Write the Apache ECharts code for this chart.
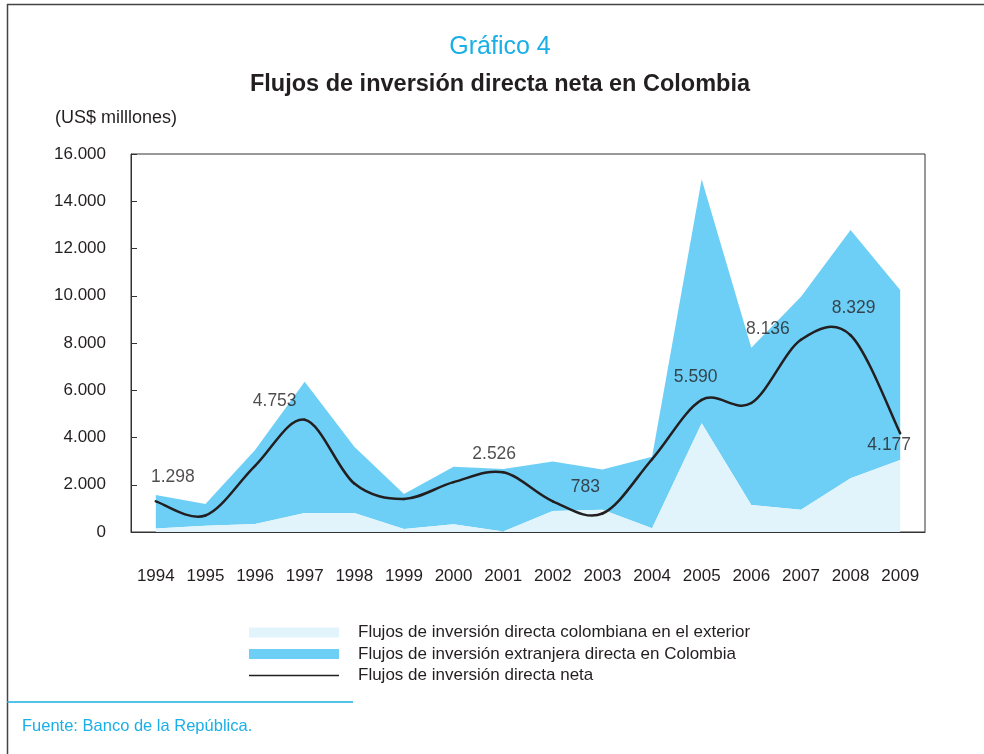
<!DOCTYPE html>
<html>
<head>
<meta charset="utf-8">
<title>Flujos de inversión directa neta en Colombia</title>
<script src="https://cdn.jsdelivr.net/npm/echarts@6/dist/echarts.min.js"></script>
<style>
  html, body { margin: 0; padding: 0; background: #fff; }
  #chart { width: 984px; height: 754px; }
</style>
</head>
<body>
<div id="chart"></div>
<script>
  // US$ millones
  var years = ['1994', '1995', '1996', '1997', '1998', '1999', '2000', '2001',
    '2002', '2003', '2004', '2005', '2006', '2007', '2008', '2009'];
  var exterior = [150, 260, 340, 800, 800, 130, 330, 20, 890, 940, 160, 4600, 1140, 940, 2270, 3050];
  var extranjera = [1420, 925, 3130, 5560, 2810, 1480, 2430, 2650, 2090, 1710, 3030, 10330, 6660, 9020, 10510, 7190];
  var neta = [1298, 700, 2800, 4753, 2050, 1400, 2110, 2526, 1300, 783, 3080, 5590, 5460, 8136, 8329, 4177];
  var yTicks = [0, 2000, 4000, 6000, 8000, 10000, 12000, 14000, 16000];

  var names = [
    'Flujos de inversión directa colombiana en el exterior',
    'Flujos de inversión extranjera directa en Colombia',
    'Flujos de inversión directa neta'
  ];

  var FONT = '"Liberation Sans", Arial, Helvetica, sans-serif';
  var CYAN = '#1aafe6';
  var INK = '#231f20';

  function fmt(v) {
    return String(v).replace(/\B(?=(\d{3})+(?!\d))/g, '.');
  }

  // which points of the net line carry a value label, and where it sits
  var labelOffsets = {
    0: [17, -24],
    3: [-30, -19],
    7: [-9, -18],
    9: [-17, -26],
    11: [-6, -23],
    13: [-33, -11],
    14: [3, -27],
    15: [-11, 12]
  };

  var labelData = [];
  Object.keys(labelOffsets).forEach(function (k) {
    var i = +k;
    labelData.push({
      value: [i, neta[i]],
      label: { offset: labelOffsets[k] }
    });
  });

  // spreadsheet-style smoothed line (catmull-rom), drawn once from dataIndex 0
  function renderNet(params, api) {
    if (params.dataIndex !== 0) return null;
    var pts = neta.map(function (v, i) { return api.coord([i, v]); });
    var n = pts.length;
    var kids = [];
    for (var i = 0; i < n - 1; i++) {
      var p0 = pts[Math.max(i - 1, 0)], p1 = pts[i], p2 = pts[i + 1], p3 = pts[Math.min(i + 2, n - 1)];
      kids.push({
        type: 'bezierCurve',
        shape: {
          x1: p1[0], y1: p1[1], x2: p2[0], y2: p2[1],
          cpx1: p1[0] + (p2[0] - p0[0]) / 6, cpy1: p1[1] + (p2[1] - p0[1]) / 6,
          cpx2: p2[0] - (p3[0] - p1[0]) / 6, cpy2: p2[1] - (p3[1] - p1[1]) / 6
        },
        style: { stroke: INK, lineWidth: 2.5, fill: null, lineCap: 'round' }
      });
    }
    return { type: 'group', children: kids };
  }

  // thin line icon for the legend (tiny corner dots keep the box 90x10)
  var lineIcon = 'path://M0,0h0.01v0.01h-0.01z M0,4.3h90v1.4h-90z M0,9.99h0.01v0.01h-0.01z';

  var chart = echarts.init(document.getElementById('chart'), null, { renderer: 'canvas' });

  chart.setOption({
    animation: false,
    backgroundColor: '#fff',
    graphic: [
      { type: 'line', shape: { x1: 7, y1: 4.5, x2: 984, y2: 4.5 }, style: { stroke: '#444', lineWidth: 1.5 } },
      { type: 'line', shape: { x1: 7.5, y1: 4, x2: 7.5, y2: 754 }, style: { stroke: '#444', lineWidth: 1.5 } },
      { type: 'line', shape: { x1: 7, y1: 702, x2: 353, y2: 702 }, style: { stroke: CYAN, lineWidth: 1.5 } },
      { type: 'text', style: { text: 'Gráfico 4', x: 500, y: 47, textAlign: 'center', textVerticalAlign: 'middle',
        font: '25px ' + FONT, fill: CYAN } },
      { type: 'text', style: { text: 'Flujos de inversión directa neta en Colombia', x: 500, y: 85,
        textAlign: 'center', textVerticalAlign: 'middle',
        font: 'bold 23.5px ' + FONT, fill: INK } },
      { type: 'text', style: { text: '(US$ milllones)', x: 55, y: 118, textAlign: 'left', textVerticalAlign: 'middle',
        font: '18px ' + FONT, fill: INK } },
      { type: 'text', style: { text: 'Fuente: Banco de la República.', x: 22, y: 726, textAlign: 'left',
        textVerticalAlign: 'middle', font: '16.5px ' + FONT, fill: CYAN } }
    ],
    grid: {
      left: 131, right: 59, top: 154, bottom: 222,
      show: true, borderColor: '#333', borderWidth: 1, backgroundColor: 'transparent'
    },
    legend: {
      orient: 'vertical',
      left: 249, top: 623,
      padding: 0,
      itemWidth: 90, itemHeight: 10, itemGap: 2.5,
      textStyle: { fontFamily: FONT, fontSize: 17, color: INK, lineHeight: 19, padding: [0, 0, 0, 14] },
      data: [
        { name: names[0], icon: 'rect' },
        { name: names[1], icon: 'rect' },
        { name: names[2], icon: lineIcon, itemStyle: { color: INK } }
      ]
    },
    xAxis: {
      type: 'category',
      data: years,
      boundaryGap: true,
      axisLine: { lineStyle: { color: '#333', width: 1 } },
      axisTick: { inside: true, length: 6, interval: 0, lineStyle: { color: '#333' } },
      axisLabel: { interval: 0, margin: 36, fontFamily: FONT, fontSize: 17, color: INK },
      splitLine: { show: false }
    },
    yAxis: {
      type: 'value',
      min: yTicks[0], max: yTicks[yTicks.length - 1], interval: yTicks[1] - yTicks[0],
      axisLine: { show: true, lineStyle: { color: '#333', width: 1 } },
      axisTick: { show: true, inside: true, length: 6, lineStyle: { color: '#333' } },
      axisLabel: { margin: 25, fontFamily: FONT, fontSize: 17, color: INK, formatter: fmt, padding: [4, 0, 0, 0] },
      splitLine: { show: false }
    },
    series: [
      {
        name: names[0], type: 'line', stack: 'flujos', data: exterior,
        symbol: 'none', lineStyle: { width: 0 },
        itemStyle: { color: '#e1f4fc' }, areaStyle: { color: '#e1f4fc', opacity: 1 }, z: 2
      },
      {
        name: names[1], type: 'line', stack: 'flujos', data: extranjera,
        symbol: 'none', lineStyle: { width: 0 },
        itemStyle: { color: '#6dcff6' }, areaStyle: { color: '#6dcff6', opacity: 1 }, z: 1
      },
      {
        name: names[2], type: 'custom',
        data: neta.map(function (v, i) { return [i, v]; }),
        encode: { x: 0, y: 1 },
        renderItem: renderNet,
        itemStyle: { color: INK }, silent: true, z: 3
      },
      {
        type: 'scatter', data: labelData, symbolSize: 1, silent: true,
        itemStyle: { color: 'transparent' }, z: 4,
        label: {
          show: true, position: 'inside',
          fontFamily: FONT, fontSize: 17.5, color: INK,
          formatter: function (p) { return fmt(p.value[1]); }
        }
      }
    ]
  });
</script>
</body>
</html>
